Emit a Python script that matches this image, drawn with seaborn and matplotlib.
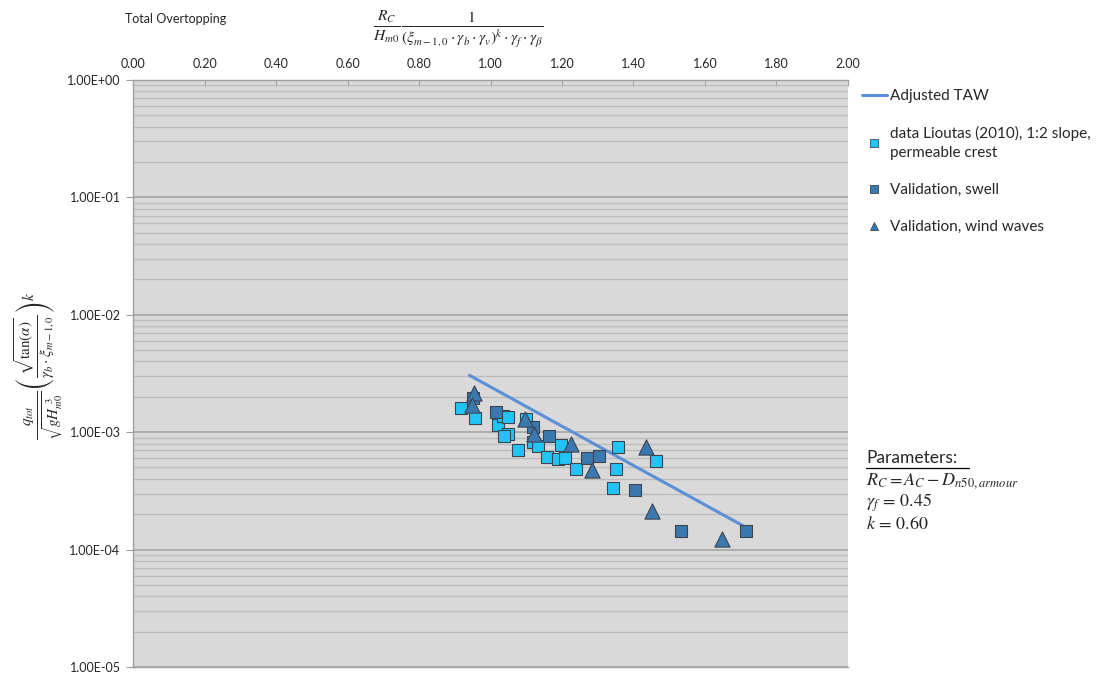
import seaborn as sns
import matplotlib.pyplot as plt
import pandas as pd
from matplotlib.ticker import FuncFormatter, LogLocator, NullFormatter
from matplotlib.lines import Line2D

# adjusted TAW line
taw_x = [0.941, 1.712]
taw_y = [3.05e-3, 1.56e-4]

# data Lioutas (2010)
lioutas_x = [0.918, 0.956, 1.021, 1.036, 1.048, 1.048, 1.038, 1.078, 1.120, 1.132,
             1.157, 1.189, 1.209, 1.196, 1.240, 1.343, 1.351, 1.357, 1.462, 1.098]
lioutas_y = [1.59e-3, 1.31e-3, 1.14e-3, 1.36e-3, 1.35e-3, 9.6e-4, 9.2e-4, 7.08e-4, 8.3e-4, 7.65e-4,
             6.18e-4, 5.9e-4, 6.0e-4, 7.8e-4, 4.83e-4, 3.31e-4, 4.83e-4, 7.5e-4, 5.68e-4, 1.29e-3]

# validation, swell
swell_x = [0.951, 1.015, 1.118, 1.165, 1.270, 1.303, 1.404, 1.533, 1.714]
swell_y = [1.94e-3, 1.49e-3, 1.11e-3, 9.18e-4, 6.0e-4, 6.3e-4, 3.19e-4, 1.43e-4, 1.45e-4]

# validation, wind waves
wind_x = [0.955, 0.948, 1.097, 1.123, 1.225, 1.284, 1.435, 1.451, 1.648]
wind_y = [2.16e-3, 1.70e-3, 1.29e-3, 9.7e-4, 8.0e-4, 4.8e-4, 7.5e-4, 2.13e-4, 1.24e-4]

x_ticks = [0.0, 0.2, 0.4, 0.6, 0.8, 1.0, 1.2, 1.4, 1.6, 1.8, 2.0]

sns.set_style("white")
plt.rcParams['font.family'] = ['Lato', 'DejaVu Sans']
plt.rcParams['mathtext.fontset'] = 'stix'

light = '#22c3f5'
dark = '#3a78b0'
line_c = '#5b8fd6'
edge = '#3c4650'

fig = plt.figure(figsize=(11.09, 6.75), dpi=100)
ax = fig.add_axes([0.12, 0.012, 0.6446, 0.8695])
ax.set_facecolor('#d9d9d9')

sns.lineplot(x=taw_x, y=taw_y, ax=ax, color=line_c, linewidth=2.2, zorder=2)
sns.scatterplot(x=lioutas_x, y=lioutas_y, ax=ax, marker='s', s=80, color=light,
                edgecolor=edge, linewidth=0.8, zorder=3)
sns.scatterplot(x=swell_x, y=swell_y, ax=ax, marker='s', s=80, color=dark,
                edgecolor=edge, linewidth=0.8, zorder=4)
sns.scatterplot(x=wind_x, y=wind_y, ax=ax, marker='^', s=120, color=dark,
                edgecolor=edge, linewidth=0.8, zorder=5)

ax.set_yscale('log')
ax.set_ylim(1e-5, 1)
ax.set_xlim(0, 2)
ax.yaxis.set_major_locator(LogLocator(base=10, numticks=10))
ax.yaxis.set_minor_locator(LogLocator(base=10, subs=range(2, 10), numticks=50))
ax.yaxis.set_major_formatter(FuncFormatter(lambda v, p: f"{v:.2E}"))
ax.yaxis.set_minor_formatter(NullFormatter())
ax.grid(which='major', axis='y', color='#a6a6a6', linewidth=1.2)
ax.grid(which='minor', axis='y', color='#bcbcbc', linewidth=1.0)
ax.set_axisbelow(True)

ax.xaxis.tick_top()
ax.set_xticks(x_ticks)
ax.set_xticklabels([f"{v:.2f}" for v in x_ticks])
ax.tick_params(axis='x', which='both', direction='in', length=4, color='#a0a0a0',
               labelsize=9, pad=7, top=True, bottom=False)
ax.tick_params(axis='y', which='major', direction='out', length=5, color='#a0a0a0',
               labelsize=9, pad=4, left=True)
ax.tick_params(axis='y', which='minor', left=False)
for side in ['left', 'top', 'bottom']:
    ax.spines[side].set_color('#a0a0a0')
    ax.spines[side].set_linewidth(1.0)
ax.spines['right'].set_visible(False)

fig.text(0.1125, 0.972, 'Total Overtopping', fontsize=9, va='center', ha='left')
fig.text(0.336, 0.958,
         r'$\frac{R_C}{H_{m0}}\frac{1}{(\xi_{m-1,0}\cdot\gamma_b\cdot\gamma_v)^k\cdot\gamma_f\cdot\gamma_\beta}$',
         fontsize=16, va='center', ha='left')
fig.text(0.035, 0.458,
         r'$\frac{q_{tot}}{\sqrt{gH_{m0}^{\ 3}}}\left(\frac{\sqrt{\tan(\alpha)}}{\gamma_b\cdot\xi_{m-1,0}}\right)^{k}$',
         fontsize=15.5, rotation=90, va='center', ha='center')

handles = [
    Line2D([], [], color=line_c, linewidth=2.2),
    Line2D([], [], linestyle='none', marker='s', markersize=6, markerfacecolor=light, markeredgecolor=edge, markeredgewidth=0.6),
    Line2D([], [], linestyle='none', marker='s', markersize=6, markerfacecolor=dark, markeredgecolor=edge, markeredgewidth=0.6),
    Line2D([], [], linestyle='none', marker='^', markersize=6, markerfacecolor=dark, markeredgecolor=edge, markeredgewidth=0.6),
]
labels = ['Adjusted TAW', 'data Lioutas (2010), 1:2 slope,\npermeable crest',
          'Validation, swell', 'Validation, wind waves']
leg = fig.legend(handles, labels, loc='upper left', bbox_to_anchor=(0.765, 0.888),
                 frameon=False, fontsize=11, handlelength=1.6, handletextpad=0.2,
                 labelspacing=1.5)
for t in leg.get_texts():
    t.set_linespacing(1.45)

fig.text(0.781, 0.321, 'Parameters:', fontsize=12.5, va='center', ha='left')
fig.add_artist(Line2D([0.781, 0.874], [0.306, 0.306], color='black', linewidth=0.9))
fig.text(0.781, 0.288, r'$R_C = A_C - D_{n50,armour}$', fontsize=13, va='center', ha='left')
fig.text(0.781, 0.255, r'$\gamma_f\, =\, 0.45$', fontsize=13, va='center', ha='left')
fig.text(0.781, 0.224, r'$k\, =\, 0.60$', fontsize=13, va='center', ha='left')

fig.savefig('out.png', dpi=100)
